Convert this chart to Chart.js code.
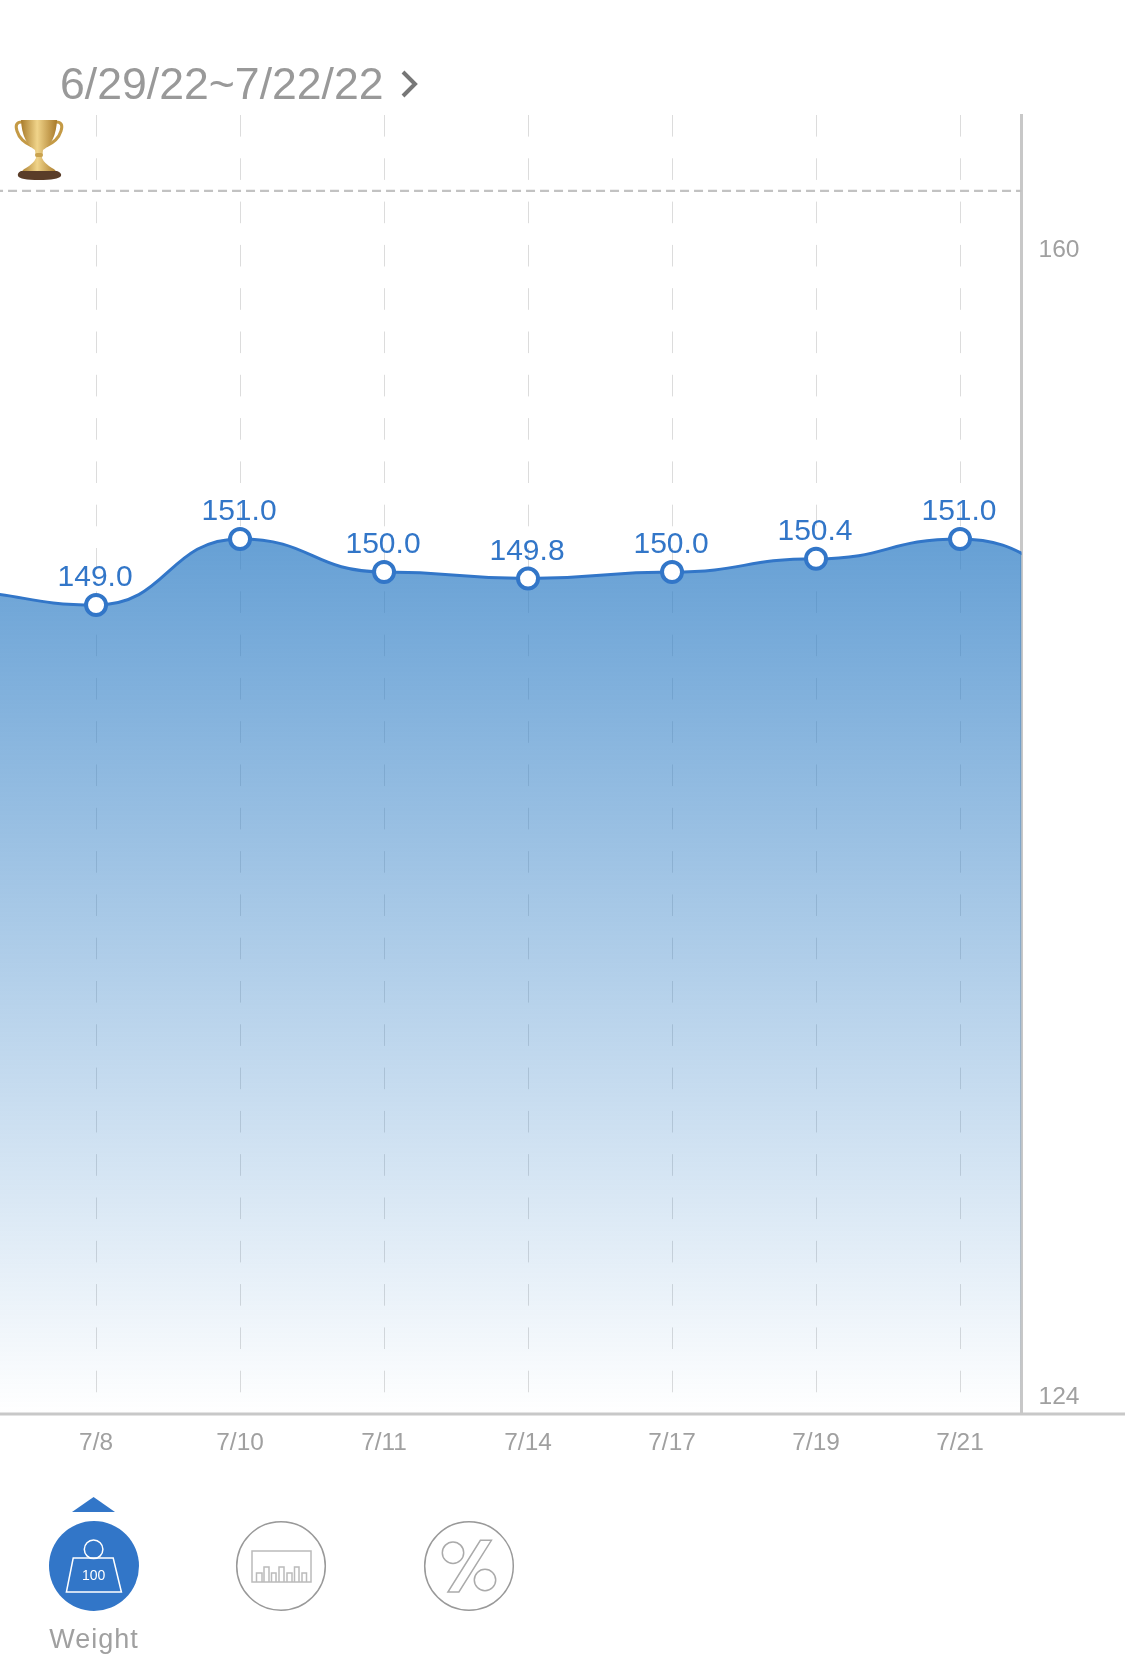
<!DOCTYPE html>
<html>
<head>
<meta charset="utf-8">
<script src="https://cdn.jsdelivr.net/npm/chart.js@4"></script>
<style>
html, body { margin: 0; padding: 0; background: #fff; overflow: hidden; }
#wrap { position: relative; width: 1125px; height: 1656px; overflow: hidden; font-family: "Liberation Sans", sans-serif; }
#chart { position: absolute; left: 0; top: 0; }
#range { position: absolute; left: 60px; top: 58px; font-size: 44.6px; line-height: 52px; color: #999; }
#weight { position: absolute; left: 0; width: 188px; text-align: center; top: 1622px; font-size: 27px; line-height: 34px; color: #a0a0a0; letter-spacing: 1px; }
svg { position: absolute; left: 0; top: 0; }
</style>
</head>
<body>
<div id="wrap">
<canvas id="chart" width="1125" height="1656"></canvas>
<div id="range">6/29/22~7/22/22</div>
<div id="weight">Weight</div>
<svg width="1125" height="1656">
  <defs>
    <linearGradient id="gold" x1="0" x2="1" y1="0" y2="0">
      <stop offset="0" stop-color="#a97c2c"/><stop offset="0.45" stop-color="#f0d48a"/><stop offset="1" stop-color="#a97a2a"/>
    </linearGradient>
  </defs>
  <!-- date range arrow -->
  <path d="M403 72 L415 84 L403 96" fill="none" stroke="#777" stroke-width="4"/>
  <!-- trophy -->
  <path d="M22 122 Q14 122 17 131 Q20 141 32 146" fill="none" stroke="#c49a45" stroke-width="3"/>
  <path d="M56 122 Q64 122 61 131 Q58 141 46 146" fill="none" stroke="#c49a45" stroke-width="3"/>
  <path d="M21 120 H57 Q56 142 43 150 L42 158 Q44 163 52 168 Q56 170 56 172 H22 Q22 170 26 168 Q34 163 36 158 L35 150 Q22 142 21 120 Z" fill="url(#gold)"/>
  <rect x="35" y="153" width="8" height="4" rx="2" fill="#c9a24f"/>
  <path d="M21 171 H57 Q62 173 61 176 Q58 180 39 180 Q20 180 18 176 Q17 173 21 171 Z" fill="#5a3d28"/>
  <!-- selected weight button -->
  <path d="M72 1512 L93.6 1497 L115 1512 Z" fill="#3276c8"/>
  <circle cx="94" cy="1566" r="45" fill="#3276c8"/>
  <circle cx="93.6" cy="1549.3" r="9.3" fill="none" stroke="#fff" stroke-width="1.5"/>
  <path d="M73.2 1558 H113.2 L121.4 1592 H66.4 Z" fill="none" stroke="#fff" stroke-width="1.5"/>
  <text x="93.6" y="1580" text-anchor="middle" font-size="14" fill="#fff">100</text>
  <!-- bars button -->
  <circle cx="281" cy="1566" r="44.3" fill="none" stroke="#999" stroke-width="1.5"/>
  <rect x="252" y="1551" width="59" height="31" fill="none" stroke="#bbb" stroke-width="1.5"/>
  <path d="M256.5 1582 V1573 H262 V1582 M264 1582 V1567 H269 V1582 M271.5 1582 V1573 H276 V1582 M279 1582 V1567 H284 V1582 M287 1582 V1573 H292 V1582 M294.500 1582 V1567 H299 V1582 M302 1582 V1573 H306.500 V1582" fill="none" stroke="#bbb" stroke-width="1.5"/>
  <!-- percent button -->
  <circle cx="469" cy="1566" r="44.3" fill="none" stroke="#999" stroke-width="1.5"/>
  <circle cx="453" cy="1552.700" r="10.700" fill="none" stroke="#aaa" stroke-width="1.5"/>
  <circle cx="485" cy="1580" r="10.700" fill="none" stroke="#aaa" stroke-width="1.5"/>
  <path d="M480.400 1540.300 H491.400 L458.900 1592 H447.900 Z" fill="none" stroke="#aaa" stroke-width="1.5"/>
</svg>
</div>
<script>
// x position of each weigh-in, first and last ones are off the visible part of the chart
var positions = [-1, 0, 1, 2, 3, 4, 5, 6, 7];
var weights = [149.4, 149.0, 151.0, 150.0, 149.8, 150.0, 150.4, 151.0, 149.8];
var dateLabels = ["7/8", "7/10", "7/11", "7/14", "7/17", "7/19", "7/21"];
var shownFrom = 1; // weights[0] has no label or dot
var goalWeight = 161.55;
var sideTicks = [124, 160];

var blue = "#3276c8";
var fontFamily = "'Liberation Sans', sans-serif";

var points = positions.map(function(p, i) {
  return { x: p, y: weights[i] };
});

// the app's curve leaves every point level, chart.js has no mode for that
var levelCurve = {
  id: "levelCurve",
  afterDatasetsUpdate: function(chart) {
    var meta = chart.getDatasetMeta(0);
    var pts = meta.data;
    meta.dataset.updateControlPoints(chart.chartArea, "x");
    pts.forEach(function(pt, i) {
      var prev = pts[i - 1], next = pts[i + 1];
      pt.cp1x = prev ? pt.x - (pt.x - prev.x) / 2 : pt.x;
      pt.cp1y = pt.y;
      pt.cp2x = next ? pt.x + (next.x - pt.x) / 2 : pt.x;
      pt.cp2y = pt.y;
    });
  }
};

// bottom line runs past the plot to the edge of the screen
var bottomLine = {
  id: "bottomLine",
  afterDraw: function(chart) {
    var ctx = chart.ctx;
    ctx.save();
    ctx.strokeStyle = "#c8c8c8";
    ctx.lineWidth = 3;
    ctx.beginPath();
    ctx.moveTo(0, chart.chartArea.bottom);
    ctx.lineTo(chart.width, chart.chartArea.bottom);
    ctx.stroke();
    ctx.restore();
  }
};

// value above every dot
var valueLabels = {
  id: "valueLabels",
  afterDatasetsDraw: function(chart) {
    var ctx = chart.ctx;
    var meta = chart.getDatasetMeta(0);
    ctx.save();
    ctx.font = "30px " + fontFamily;
    ctx.fillStyle = blue;
    ctx.textAlign = "center";
    ctx.textBaseline = "alphabetic";
    meta.data.forEach(function(pt, i) {
      if (i < shownFrom || i >= shownFrom + dateLabels.length) return;
      ctx.fillText(weights[i].toFixed(1), pt.x - 1, pt.y - 19);
    });
    ctx.restore();
  }
};

var chart = new Chart("chart", {
  type: "line",
  plugins: [levelCurve, bottomLine, valueLabels],
  data: {
    datasets: [
      {
        data: points,
        yAxisID: "y",
        cubicInterpolationMode: "monotone",
        borderColor: blue,
        borderWidth: 3,
        fill: "start",
        backgroundColor: function(context) {
          var area = context.chart.chartArea;
          if (!area) return "rgba(49,127,198,0.7)";
          var g = context.chart.ctx.createLinearGradient(0, 540, 0, area.bottom);
          g.addColorStop(0, "rgba(49,127,198,0.74)");
          g.addColorStop(1, "rgba(49,127,198,0)");
          return g;
        },
        pointRadius: function(c) {
          return (c.dataIndex < shownFrom || c.dataIndex >= shownFrom + dateLabels.length) ? 0 : 10;
        },
        pointBackgroundColor: "#fff",
        pointBorderColor: blue,
        pointBorderWidth: 4,
        order: 1
      },
      {
        // trophy goal line
        data: [{ x: -1, y: goalWeight }, { x: 7, y: goalWeight }],
        yAxisID: "y",
        borderColor: "#c2c2c2",
        borderWidth: 2.2,
        borderDash: [9, 5],
        pointRadius: 0,
        fill: false,
        order: 2
      }
    ]
  },
  options: {
    responsive: false,
    animation: false,
    layout: { padding: { top: 115, left: 0, right: 0, bottom: 0 } },
    plugins: {
      legend: { display: false },
      tooltip: { enabled: false }
    },
    scales: {
      x: {
        type: "linear",
        min: -0.667,
        max: 6.427,
        afterBuildTicks: function(scale) {
          scale.ticks = dateLabels.map(function(d, i) { return { value: i }; });
        },
        afterFit: function(scale) { scale.height = 242; },
        grid: {
          color: "#dcdcdc",
          lineWidth: 1,
          drawTicks: false
        },
        border: { display: false, dash: [21.6, 21.7] },
        ticks: {
          autoSkip: false,
          maxRotation: 0,
          padding: 15,
          color: "#a0a0a0",
          font: { family: fontFamily, size: 24.4 },
          callback: function(v) { return dateLabels[v]; }
        }
      },
      y: {
        // carries the weights, its ticks are not the ones on screen
        display: false,
        min: 124.48,
        max: 163.85
      },
      yr: {
        position: "right",
        min: 123.47,
        max: 164.25,
        afterBuildTicks: function(scale) {
          scale.ticks = sideTicks.map(function(v) { return { value: v }; });
        },
        afterFit: function(scale) { scale.width = 103.5; },
        grid: { display: false, drawTicks: false },
        border: { display: true, color: "#c8c8c8", width: 3 },
        ticks: {
          padding: 17,
          color: "#a0a0a0",
          font: { family: fontFamily, size: 24.6 }
        }
      }
    }
  }
});
</script>
</body>
</html>
